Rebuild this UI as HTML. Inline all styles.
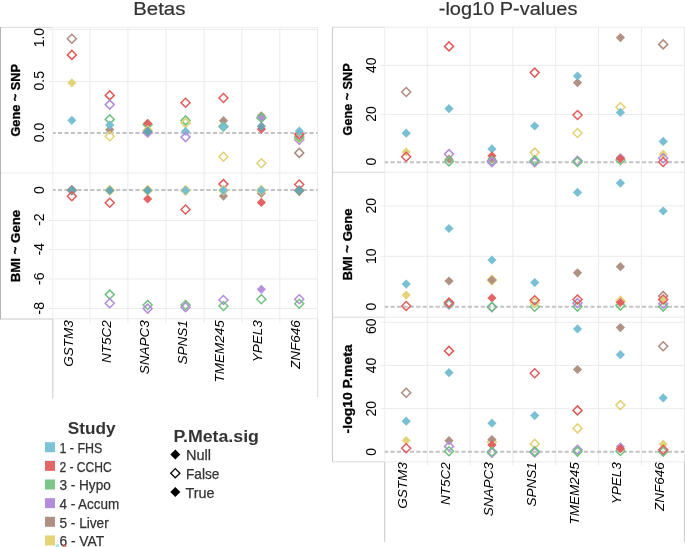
<!DOCTYPE html>
<html><head><meta charset="utf-8"><style>
html,body{margin:0;padding:0;background:#fff;}
body{width:685px;height:547px;overflow:hidden;}
svg{display:block;font-family:"Liberation Sans",sans-serif;filter:blur(0.35px);}
</style></head><body>
<svg width="685" height="547" viewBox="0 0 685 547">
<rect width="685" height="547" fill="#fff"/>
<line x1="48.8" y1="29.5" x2="317.5" y2="29.5" stroke="#ebebeb" stroke-width="1"/>
<line x1="48.8" y1="81.5" x2="317.5" y2="81.5" stroke="#ebebeb" stroke-width="1"/>
<line x1="48.8" y1="220.5" x2="317.5" y2="220.5" stroke="#ebebeb" stroke-width="1"/>
<line x1="48.8" y1="249.5" x2="317.5" y2="249.5" stroke="#ebebeb" stroke-width="1"/>
<line x1="48.8" y1="279.0" x2="317.5" y2="279.0" stroke="#ebebeb" stroke-width="1"/>
<line x1="48.8" y1="308.5" x2="317.5" y2="308.5" stroke="#ebebeb" stroke-width="1"/>
<line x1="52.8" y1="27.4" x2="317.5" y2="27.4" stroke="#f0f0f0" stroke-width="1"/>
<line x1="0" y1="173.0" x2="317.5" y2="173.0" stroke="#ebebeb" stroke-width="1"/>
<line x1="52.8" y1="318.7" x2="317.5" y2="318.7" stroke="#ebebeb" stroke-width="1"/>
<line x1="89.9" y1="27.5" x2="89.9" y2="323" stroke="#ebebeb" stroke-width="1"/>
<line x1="127.9" y1="27.5" x2="127.9" y2="323" stroke="#ebebeb" stroke-width="1"/>
<line x1="166.1" y1="27.5" x2="166.1" y2="323" stroke="#ebebeb" stroke-width="1"/>
<line x1="204.2" y1="27.5" x2="204.2" y2="323" stroke="#ebebeb" stroke-width="1"/>
<line x1="241.8" y1="27.5" x2="241.8" y2="323" stroke="#ebebeb" stroke-width="1"/>
<line x1="279.8" y1="27.5" x2="279.8" y2="323" stroke="#ebebeb" stroke-width="1"/>
<line x1="317.5" y1="27.5" x2="317.5" y2="319" stroke="#ebebeb" stroke-width="1"/>
<line x1="52.8" y1="27.5" x2="52.8" y2="319" stroke="#efefef" stroke-width="1"/>
<line x1="0" y1="27.4" x2="52.8" y2="27.4" stroke="#d9d9d9" stroke-width="1"/>
<line x1="0.5" y1="27" x2="0.5" y2="319.5" stroke="#b4b4b4" stroke-width="1"/>
<line x1="0" y1="319" x2="52.8" y2="319" stroke="#c9c9c9" stroke-width="1"/>
<line x1="52.8" y1="319" x2="52.8" y2="398.5" stroke="#c9c9c9" stroke-width="1"/>
<line x1="317.8" y1="319" x2="317.8" y2="397" stroke="#d6d6d6" stroke-width="1"/>
<line x1="53" y1="133" x2="317.5" y2="133" stroke="#c3c3c3" stroke-width="2" stroke-dasharray="4.2 2.25" stroke-dashoffset="1.45"/>
<line x1="53" y1="190.1" x2="317.5" y2="190.1" stroke="#c3c3c3" stroke-width="2" stroke-dasharray="4.2 2.25" stroke-dashoffset="1.45"/>
<line x1="380.7" y1="65.4" x2="684.0" y2="65.4" stroke="#ebebeb" stroke-width="1"/>
<line x1="380.7" y1="114.4" x2="684.0" y2="114.4" stroke="#ebebeb" stroke-width="1"/>
<line x1="380.7" y1="205.9" x2="684.0" y2="205.9" stroke="#ebebeb" stroke-width="1"/>
<line x1="380.7" y1="256.3" x2="684.0" y2="256.3" stroke="#ebebeb" stroke-width="1"/>
<line x1="380.7" y1="322.3" x2="684.0" y2="322.3" stroke="#ebebeb" stroke-width="1"/>
<line x1="380.7" y1="365.4" x2="684.0" y2="365.4" stroke="#ebebeb" stroke-width="1"/>
<line x1="380.7" y1="408.6" x2="684.0" y2="408.6" stroke="#ebebeb" stroke-width="1"/>
<line x1="427.22999999999996" y1="27" x2="427.22999999999996" y2="465.5" stroke="#ebebeb" stroke-width="1"/>
<line x1="470.05999999999995" y1="27" x2="470.05999999999995" y2="465.5" stroke="#ebebeb" stroke-width="1"/>
<line x1="512.89" y1="27" x2="512.89" y2="465.5" stroke="#ebebeb" stroke-width="1"/>
<line x1="555.72" y1="27" x2="555.72" y2="465.5" stroke="#ebebeb" stroke-width="1"/>
<line x1="598.55" y1="27" x2="598.55" y2="465.5" stroke="#ebebeb" stroke-width="1"/>
<line x1="641.38" y1="27" x2="641.38" y2="465.5" stroke="#ebebeb" stroke-width="1"/>
<line x1="384.7" y1="27" x2="384.7" y2="462" stroke="#efefef" stroke-width="1"/>
<line x1="684.4" y1="27" x2="684.4" y2="462" stroke="#e6e6e6" stroke-width="1"/>
<line x1="384.7" y1="27.2" x2="684.0" y2="27.2" stroke="#ececec" stroke-width="1"/>
<line x1="384.7" y1="172.3" x2="684.0" y2="172.3" stroke="#ebebeb" stroke-width="1"/>
<line x1="384.7" y1="317.2" x2="684.0" y2="317.2" stroke="#ebebeb" stroke-width="1"/>
<line x1="384.7" y1="461.8" x2="684.0" y2="461.8" stroke="#ebebeb" stroke-width="1"/>
<line x1="332.5" y1="27.2" x2="384.7" y2="27.2" stroke="#d9d9d9" stroke-width="1"/>
<line x1="332.5" y1="172.3" x2="384.7" y2="172.3" stroke="#d9d9d9" stroke-width="1"/>
<line x1="332.5" y1="317.2" x2="384.7" y2="317.2" stroke="#d9d9d9" stroke-width="1"/>
<line x1="332.5" y1="461.8" x2="384.7" y2="461.8" stroke="#d9d9d9" stroke-width="1"/>
<line x1="332.5" y1="27" x2="332.5" y2="462" stroke="#c9c9c9" stroke-width="1"/>
<line x1="384.7" y1="462" x2="384.7" y2="542" stroke="#c9c9c9" stroke-width="1"/>
<line x1="684.4" y1="462" x2="684.4" y2="542" stroke="#c9c9c9" stroke-width="1"/>
<line x1="384.7" y1="162.2" x2="684.0" y2="162.2" stroke="#c3c3c3" stroke-width="2" stroke-dasharray="4.2 2.25" stroke-dashoffset="0.7"/>
<line x1="384.7" y1="306.8" x2="684.0" y2="306.8" stroke="#c3c3c3" stroke-width="2" stroke-dasharray="4.2 2.25" stroke-dashoffset="0.7"/>
<line x1="384.7" y1="451.8" x2="684.0" y2="451.8" stroke="#c3c3c3" stroke-width="2" stroke-dasharray="4.2 2.25" stroke-dashoffset="0.7"/>
<path d="M71.85 34.20L76.35 38.70L71.85 43.20L67.35 38.70Z" fill="none" stroke="#ad8b7d" stroke-width="1.5"/>
<path d="M71.85 50.40L76.35 54.90L71.85 59.40L67.35 54.90Z" fill="none" stroke="#e05c5c" stroke-width="1.5"/>
<path d="M71.85 78.20L76.45 82.80L71.85 87.40L67.25 82.80Z" fill="#e2d274" fill-opacity="0.95"/>
<path d="M71.85 115.70L76.45 120.30L71.85 124.90L67.25 120.30Z" fill="#72bdd2" fill-opacity="0.95"/>
<path d="M109.75 90.90L114.25 95.40L109.75 99.90L105.25 95.40Z" fill="none" stroke="#e05c5c" stroke-width="1.5"/>
<path d="M109.75 100.10L114.25 104.60L109.75 109.10L105.25 104.60Z" fill="none" stroke="#b38cdb" stroke-width="1.5"/>
<path d="M109.75 114.90L114.25 119.40L109.75 123.90L105.25 119.40Z" fill="none" stroke="#72c180" stroke-width="1.5"/>
<path d="M109.75 125.10L114.35 129.70L109.75 134.30L105.15 129.70Z" fill="#ad8b7d" fill-opacity="0.95"/>
<path d="M109.75 120.50L114.35 125.10L109.75 129.70L105.15 125.10Z" fill="#72bdd2" fill-opacity="0.95"/>
<path d="M109.75 131.80L114.25 136.30L109.75 140.80L105.25 136.30Z" fill="none" stroke="#e2d274" stroke-width="1.5"/>
<path d="M147.65 120.10L152.15 124.60L147.65 129.10L143.15 124.60Z" fill="none" stroke="#72c180" stroke-width="1.5"/>
<path d="M147.65 118.80L152.25 123.40L147.65 128.00L143.05 123.40Z" fill="#e05c5c" fill-opacity="0.95"/>
<path d="M147.65 126.10L152.15 130.60L147.65 135.10L143.15 130.60Z" fill="none" stroke="#e2d274" stroke-width="1.5"/>
<path d="M147.65 127.90L152.15 132.40L147.65 136.90L143.15 132.40Z" fill="none" stroke="#b38cdb" stroke-width="1.5"/>
<path d="M147.65 126.80L152.25 131.40L147.65 136.00L143.05 131.40Z" fill="#ad8b7d" fill-opacity="0.95"/>
<path d="M147.65 126.80L152.25 131.40L147.65 136.00L143.05 131.40Z" fill="#5fa5b2" fill-opacity="0.95"/>
<path d="M185.55 98.20L190.05 102.70L185.55 107.20L181.05 102.70Z" fill="none" stroke="#e05c5c" stroke-width="1.5"/>
<path d="M185.55 115.90L190.05 120.40L185.55 124.90L181.05 120.40Z" fill="none" stroke="#72c180" stroke-width="1.5"/>
<path d="M185.55 118.40L190.05 122.90L185.55 127.40L181.05 122.90Z" fill="none" stroke="#e2d274" stroke-width="1.5"/>
<path d="M185.55 126.80L190.15 131.40L185.55 136.00L180.95 131.40Z" fill="#72bdd2" fill-opacity="0.95"/>
<path d="M185.55 132.60L190.05 137.10L185.55 141.60L181.05 137.10Z" fill="none" stroke="#b38cdb" stroke-width="1.5"/>
<path d="M223.45 93.50L227.95 98.00L223.45 102.50L218.95 98.00Z" fill="none" stroke="#e05c5c" stroke-width="1.5"/>
<path d="M223.45 116.10L228.05 120.70L223.45 125.30L218.85 120.70Z" fill="#ad8b7d" fill-opacity="0.95"/>
<path d="M223.45 122.00L227.95 126.50L223.45 131.00L218.95 126.50Z" fill="none" stroke="#72c180" stroke-width="1.5"/>
<path d="M223.45 122.20L228.05 126.80L223.45 131.40L218.85 126.80Z" fill="#72bdd2" fill-opacity="0.95"/>
<path d="M223.45 152.30L227.95 156.80L223.45 161.30L218.95 156.80Z" fill="none" stroke="#e2d274" stroke-width="1.5"/>
<path d="M261.35 111.20L265.95 115.80L261.35 120.40L256.75 115.80Z" fill="#ad8b7d" fill-opacity="0.95"/>
<path d="M261.35 113.70L265.95 118.30L261.35 122.90L256.75 118.30Z" fill="#b38cdb" fill-opacity="0.95"/>
<path d="M261.35 113.30L265.85 117.80L261.35 122.30L256.85 117.80Z" fill="none" stroke="#72c180" stroke-width="1.5"/>
<path d="M261.35 124.60L265.95 129.20L261.35 133.80L256.75 129.20Z" fill="#e05c5c" fill-opacity="0.95"/>
<path d="M261.35 121.70L265.95 126.30L261.35 130.90L256.75 126.30Z" fill="#6a9fb2" fill-opacity="0.95"/>
<path d="M261.35 158.70L265.85 163.20L261.35 167.70L256.85 163.20Z" fill="none" stroke="#e2d274" stroke-width="1.5"/>
<path d="M299.25 135.30L303.75 139.80L299.25 144.30L294.75 139.80Z" fill="none" stroke="#b38cdb" stroke-width="1.5"/>
<path d="M299.25 133.50L303.75 138.00L299.25 142.50L294.75 138.00Z" fill="none" stroke="#e2d274" stroke-width="1.5"/>
<path d="M299.25 132.40L303.75 136.90L299.25 141.40L294.75 136.90Z" fill="none" stroke="#72c180" stroke-width="1.5"/>
<path d="M299.25 129.90L303.75 134.40L299.25 138.90L294.75 134.40Z" fill="none" stroke="#e05c5c" stroke-width="1.5"/>
<path d="M299.25 126.40L303.85 131.00L299.25 135.60L294.65 131.00Z" fill="#72bdd2" fill-opacity="0.95"/>
<path d="M299.25 148.40L303.75 152.90L299.25 157.40L294.75 152.90Z" fill="none" stroke="#ad8b7d" stroke-width="1.5"/>
<path d="M71.85 185.70L76.35 190.20L71.85 194.70L67.35 190.20Z" fill="none" stroke="#ad8b7d" stroke-width="1.5"/>
<path d="M71.85 185.70L76.45 190.30L71.85 194.90L67.25 190.30Z" fill="#5fa5b2" fill-opacity="0.95"/>
<path d="M71.85 191.80L76.35 196.30L71.85 200.80L67.35 196.30Z" fill="none" stroke="#e05c5c" stroke-width="1.5"/>
<path d="M109.75 185.80L114.25 190.30L109.75 194.80L105.25 190.30Z" fill="none" stroke="#e2d274" stroke-width="1.5"/>
<path d="M109.75 185.80L114.35 190.40L109.75 195.00L105.15 190.40Z" fill="#5fa5b2" fill-opacity="0.95"/>
<path d="M109.75 198.20L114.25 202.70L109.75 207.20L105.25 202.70Z" fill="none" stroke="#e05c5c" stroke-width="1.5"/>
<path d="M109.75 290.10L114.25 294.60L109.75 299.10L105.25 294.60Z" fill="none" stroke="#72c180" stroke-width="1.5"/>
<path d="M109.75 298.80L114.25 303.30L109.75 307.80L105.25 303.30Z" fill="none" stroke="#b38cdb" stroke-width="1.5"/>
<path d="M147.65 185.80L152.15 190.30L147.65 194.80L143.15 190.30Z" fill="none" stroke="#e2d274" stroke-width="1.5"/>
<path d="M147.65 185.80L152.25 190.40L147.65 195.00L143.05 190.40Z" fill="#5fa5b2" fill-opacity="0.95"/>
<path d="M147.65 194.40L152.25 199.00L147.65 203.60L143.05 199.00Z" fill="#e05c5c" fill-opacity="0.95"/>
<path d="M147.65 300.50L152.15 305.00L147.65 309.50L143.15 305.00Z" fill="none" stroke="#72c180" stroke-width="1.5"/>
<path d="M147.65 304.10L152.15 308.60L147.65 313.10L143.15 308.60Z" fill="none" stroke="#b38cdb" stroke-width="1.5"/>
<path d="M185.55 185.90L190.05 190.40L185.55 194.90L181.05 190.40Z" fill="none" stroke="#e2d274" stroke-width="1.5"/>
<path d="M185.55 185.80L190.15 190.40L185.55 195.00L180.95 190.40Z" fill="#72bdd2" fill-opacity="0.95"/>
<path d="M185.55 205.00L190.05 209.50L185.55 214.00L181.05 209.50Z" fill="none" stroke="#e05c5c" stroke-width="1.5"/>
<path d="M185.55 300.60L190.05 305.10L185.55 309.60L181.05 305.10Z" fill="none" stroke="#72c180" stroke-width="1.5"/>
<path d="M185.55 302.80L190.05 307.30L185.55 311.80L181.05 307.30Z" fill="none" stroke="#b38cdb" stroke-width="1.5"/>
<path d="M223.45 179.60L227.95 184.10L223.45 188.60L218.95 184.10Z" fill="none" stroke="#e05c5c" stroke-width="1.5"/>
<path d="M223.45 191.50L228.05 196.10L223.45 200.70L218.85 196.10Z" fill="#ad8b7d" fill-opacity="0.95"/>
<path d="M223.45 185.80L227.95 190.30L223.45 194.80L218.95 190.30Z" fill="none" stroke="#e2d274" stroke-width="1.5"/>
<path d="M223.45 185.70L228.05 190.30L223.45 194.90L218.85 190.30Z" fill="#72bdd2" fill-opacity="0.95"/>
<path d="M223.45 295.50L227.95 300.00L223.45 304.50L218.95 300.00Z" fill="none" stroke="#b38cdb" stroke-width="1.5"/>
<path d="M223.45 301.50L227.95 306.00L223.45 310.50L218.95 306.00Z" fill="none" stroke="#72c180" stroke-width="1.5"/>
<path d="M261.35 188.70L265.95 193.30L261.35 197.90L256.75 193.30Z" fill="#ad8b7d" fill-opacity="0.95"/>
<path d="M261.35 185.80L265.85 190.30L261.35 194.80L256.85 190.30Z" fill="none" stroke="#e2d274" stroke-width="1.5"/>
<path d="M261.35 185.70L265.95 190.30L261.35 194.90L256.75 190.30Z" fill="#72bdd2" fill-opacity="0.95"/>
<path d="M261.35 197.80L265.95 202.40L261.35 207.00L256.75 202.40Z" fill="#e05c5c" fill-opacity="0.95"/>
<path d="M261.35 284.70L265.95 289.30L261.35 293.90L256.75 289.30Z" fill="#b38cdb" fill-opacity="0.95"/>
<path d="M261.35 294.80L265.85 299.30L261.35 303.80L256.85 299.30Z" fill="none" stroke="#72c180" stroke-width="1.5"/>
<path d="M299.25 180.00L303.75 184.50L299.25 189.00L294.75 184.50Z" fill="none" stroke="#e05c5c" stroke-width="1.5"/>
<path d="M299.25 186.10L303.75 190.60L299.25 195.10L294.75 190.60Z" fill="none" stroke="#ad8b7d" stroke-width="1.5"/>
<path d="M299.25 185.90L303.85 190.50L299.25 195.10L294.65 190.50Z" fill="#5fa5b2" fill-opacity="0.95"/>
<path d="M299.25 294.80L303.75 299.30L299.25 303.80L294.75 299.30Z" fill="none" stroke="#b38cdb" stroke-width="1.5"/>
<path d="M299.25 299.20L303.75 303.70L299.25 308.20L294.75 303.70Z" fill="none" stroke="#72c180" stroke-width="1.5"/>
<path d="M406.20 87.50L410.70 92.00L406.20 96.50L401.70 92.00Z" fill="none" stroke="#ad8b7d" stroke-width="1.5"/>
<path d="M406.20 128.60L410.80 133.20L406.20 137.80L401.60 133.20Z" fill="#72bdd2" fill-opacity="0.95"/>
<path d="M406.20 147.40L410.80 152.00L406.20 156.60L401.60 152.00Z" fill="#e2d274" fill-opacity="0.95"/>
<path d="M406.20 152.20L410.70 156.70L406.20 161.20L401.70 156.70Z" fill="none" stroke="#e05c5c" stroke-width="1.5"/>
<path d="M449.00 41.90L453.50 46.40L449.00 50.90L444.50 46.40Z" fill="none" stroke="#e05c5c" stroke-width="1.5"/>
<path d="M449.00 104.10L453.60 108.70L449.00 113.30L444.40 108.70Z" fill="#72bdd2" fill-opacity="0.95"/>
<path d="M449.00 149.60L453.50 154.10L449.00 158.60L444.50 154.10Z" fill="none" stroke="#b38cdb" stroke-width="1.5"/>
<path d="M449.00 154.60L453.60 159.20L449.00 163.80L444.40 159.20Z" fill="#ad8b7d" fill-opacity="0.95"/>
<path d="M449.00 156.90L453.50 161.40L449.00 165.90L444.50 161.40Z" fill="none" stroke="#72c180" stroke-width="1.5"/>
<path d="M491.90 144.30L496.50 148.90L491.90 153.50L487.30 148.90Z" fill="#72bdd2" fill-opacity="0.95"/>
<path d="M491.90 154.30L496.50 158.90L491.90 163.50L487.30 158.90Z" fill="#ad8b7d" fill-opacity="0.95"/>
<path d="M491.90 151.20L496.50 155.80L491.90 160.40L487.30 155.80Z" fill="#e05c5c" fill-opacity="0.95"/>
<path d="M491.90 156.30L496.40 160.80L491.90 165.30L487.40 160.80Z" fill="none" stroke="#72c180" stroke-width="1.5"/>
<path d="M491.90 157.60L496.40 162.10L491.90 166.60L487.40 162.10Z" fill="none" stroke="#b38cdb" stroke-width="1.5"/>
<path d="M534.70 68.10L539.20 72.60L534.70 77.10L530.20 72.60Z" fill="none" stroke="#e05c5c" stroke-width="1.5"/>
<path d="M534.70 121.40L539.30 126.00L534.70 130.60L530.10 126.00Z" fill="#72bdd2" fill-opacity="0.95"/>
<path d="M534.70 148.10L539.20 152.60L534.70 157.10L530.20 152.60Z" fill="none" stroke="#e2d274" stroke-width="1.5"/>
<path d="M534.70 157.60L539.20 162.10L534.70 166.60L530.20 162.10Z" fill="none" stroke="#b38cdb" stroke-width="1.5"/>
<path d="M534.70 155.90L539.20 160.40L534.70 164.90L530.20 160.40Z" fill="none" stroke="#72c180" stroke-width="1.5"/>
<path d="M577.50 78.10L582.10 82.70L577.50 87.30L572.90 82.70Z" fill="#ad8b7d" fill-opacity="0.95"/>
<path d="M577.50 71.40L582.10 76.00L577.50 80.60L572.90 76.00Z" fill="#72bdd2" fill-opacity="0.95"/>
<path d="M577.50 110.50L582.00 115.00L577.50 119.50L573.00 115.00Z" fill="none" stroke="#e05c5c" stroke-width="1.5"/>
<path d="M577.50 128.50L582.00 133.00L577.50 137.50L573.00 133.00Z" fill="none" stroke="#e2d274" stroke-width="1.5"/>
<path d="M577.50 156.20L582.00 160.70L577.50 165.20L573.00 160.70Z" fill="none" stroke="#b38cdb" stroke-width="1.5"/>
<path d="M577.50 157.50L582.00 162.00L577.50 166.50L573.00 162.00Z" fill="none" stroke="#72c180" stroke-width="1.5"/>
<path d="M620.40 33.00L625.00 37.60L620.40 42.20L615.80 37.60Z" fill="#ad8b7d" fill-opacity="0.95"/>
<path d="M620.40 102.80L624.90 107.30L620.40 111.80L615.90 107.30Z" fill="none" stroke="#e2d274" stroke-width="1.5"/>
<path d="M620.40 107.80L625.00 112.40L620.40 117.00L615.80 112.40Z" fill="#72bdd2" fill-opacity="0.95"/>
<path d="M620.40 153.00L625.00 157.60L620.40 162.20L615.80 157.60Z" fill="#b38cdb" fill-opacity="0.95"/>
<path d="M620.40 155.50L624.90 160.00L620.40 164.50L615.90 160.00Z" fill="none" stroke="#72c180" stroke-width="1.5"/>
<path d="M620.40 154.00L625.00 158.60L620.40 163.20L615.80 158.60Z" fill="#e05c5c" fill-opacity="0.95"/>
<path d="M663.20 39.90L667.70 44.40L663.20 48.90L658.70 44.40Z" fill="none" stroke="#ad8b7d" stroke-width="1.5"/>
<path d="M663.20 136.80L667.80 141.40L663.20 146.00L658.60 141.40Z" fill="#72bdd2" fill-opacity="0.95"/>
<path d="M663.20 149.60L667.80 154.20L663.20 158.80L658.60 154.20Z" fill="#e2d274" fill-opacity="0.95"/>
<path d="M663.20 153.70L667.70 158.20L663.20 162.70L658.70 158.20Z" fill="none" stroke="#b38cdb" stroke-width="1.5"/>
<path d="M663.20 157.50L667.70 162.00L663.20 166.50L658.70 162.00Z" fill="none" stroke="#e05c5c" stroke-width="1.5"/>
<path d="M406.20 279.50L410.80 284.10L406.20 288.70L401.60 284.10Z" fill="#72bdd2" fill-opacity="0.95"/>
<path d="M406.20 290.50L410.80 295.10L406.20 299.70L401.60 295.10Z" fill="#e2d274" fill-opacity="0.95"/>
<path d="M406.20 301.50L410.70 306.00L406.20 310.50L401.70 306.00Z" fill="none" stroke="#e05c5c" stroke-width="1.5"/>
<path d="M449.00 223.90L453.60 228.50L449.00 233.10L444.40 228.50Z" fill="#72bdd2" fill-opacity="0.95"/>
<path d="M449.00 276.40L453.60 281.00L449.00 285.60L444.40 281.00Z" fill="#ad8b7d" fill-opacity="0.95"/>
<path d="M449.00 300.00L453.50 304.50L449.00 309.00L444.50 304.50Z" fill="none" stroke="#b38cdb" stroke-width="1.5"/>
<path d="M449.00 299.10L453.50 303.60L449.00 308.10L444.50 303.60Z" fill="none" stroke="#72c180" stroke-width="1.5"/>
<path d="M449.00 298.10L453.50 302.60L449.00 307.10L444.50 302.60Z" fill="none" stroke="#e05c5c" stroke-width="1.5"/>
<path d="M491.90 255.40L496.50 260.00L491.90 264.60L487.30 260.00Z" fill="#72bdd2" fill-opacity="0.95"/>
<path d="M491.90 275.60L496.40 280.10L491.90 284.60L487.40 280.10Z" fill="none" stroke="#e2d274" stroke-width="1.5"/>
<path d="M491.90 275.50L496.50 280.10L491.90 284.70L487.30 280.10Z" fill="#ad8b7d" fill-opacity="0.95"/>
<path d="M491.90 293.40L496.50 298.00L491.90 302.60L487.30 298.00Z" fill="#e05c5c" fill-opacity="0.95"/>
<path d="M491.90 302.70L496.40 307.20L491.90 311.70L487.40 307.20Z" fill="none" stroke="#b38cdb" stroke-width="1.5"/>
<path d="M491.90 302.20L496.40 306.70L491.90 311.20L487.40 306.70Z" fill="none" stroke="#72c180" stroke-width="1.5"/>
<path d="M534.70 278.00L539.30 282.60L534.70 287.20L530.10 282.60Z" fill="#72bdd2" fill-opacity="0.95"/>
<path d="M534.70 302.20L539.20 306.70L534.70 311.20L530.20 306.70Z" fill="none" stroke="#72c180" stroke-width="1.5"/>
<path d="M534.70 298.20L539.20 302.70L534.70 307.20L530.20 302.70Z" fill="none" stroke="#e2d274" stroke-width="1.5"/>
<path d="M534.70 295.70L539.20 300.20L534.70 304.70L530.20 300.20Z" fill="none" stroke="#e05c5c" stroke-width="1.5"/>
<path d="M577.50 187.80L582.10 192.40L577.50 197.00L572.90 192.40Z" fill="#72bdd2" fill-opacity="0.95"/>
<path d="M577.50 268.20L582.10 272.80L577.50 277.40L572.90 272.80Z" fill="#ad8b7d" fill-opacity="0.95"/>
<path d="M577.50 302.10L582.00 306.60L577.50 311.10L573.00 306.60Z" fill="none" stroke="#72c180" stroke-width="1.5"/>
<path d="M577.50 298.60L582.00 303.10L577.50 307.60L573.00 303.10Z" fill="none" stroke="#b38cdb" stroke-width="1.5"/>
<path d="M577.50 295.00L582.00 299.50L577.50 304.00L573.00 299.50Z" fill="none" stroke="#e05c5c" stroke-width="1.5"/>
<path d="M620.40 178.50L625.00 183.10L620.40 187.70L615.80 183.10Z" fill="#72bdd2" fill-opacity="0.95"/>
<path d="M620.40 262.10L625.00 266.70L620.40 271.30L615.80 266.70Z" fill="#ad8b7d" fill-opacity="0.95"/>
<path d="M620.40 301.10L624.90 305.60L620.40 310.10L615.90 305.60Z" fill="none" stroke="#72c180" stroke-width="1.5"/>
<path d="M620.40 296.40L624.90 300.90L620.40 305.40L615.90 300.90Z" fill="none" stroke="#e2d274" stroke-width="1.5"/>
<path d="M620.40 297.80L625.00 302.40L620.40 307.00L615.80 302.40Z" fill="#e05c5c" fill-opacity="0.95"/>
<path d="M663.20 206.40L667.80 211.00L663.20 215.60L658.60 211.00Z" fill="#72bdd2" fill-opacity="0.95"/>
<path d="M663.20 302.10L667.70 306.60L663.20 311.10L658.70 306.60Z" fill="none" stroke="#72c180" stroke-width="1.5"/>
<path d="M663.20 299.20L667.70 303.70L663.20 308.20L658.70 303.70Z" fill="none" stroke="#b38cdb" stroke-width="1.5"/>
<path d="M663.20 291.60L667.70 296.10L663.20 300.60L658.70 296.10Z" fill="none" stroke="#ad8b7d" stroke-width="1.5"/>
<path d="M663.20 295.40L667.80 300.00L663.20 304.60L658.60 300.00Z" fill="#e2d274" fill-opacity="0.95"/>
<path d="M663.20 295.00L667.70 299.50L663.20 304.00L658.70 299.50Z" fill="none" stroke="#e05c5c" stroke-width="1.5"/>
<path d="M406.20 388.20L410.70 392.70L406.20 397.20L401.70 392.70Z" fill="none" stroke="#ad8b7d" stroke-width="1.5"/>
<path d="M406.20 416.60L410.80 421.20L406.20 425.80L401.60 421.20Z" fill="#72bdd2" fill-opacity="0.95"/>
<path d="M406.20 435.90L410.80 440.50L406.20 445.10L401.60 440.50Z" fill="#e2d274" fill-opacity="0.95"/>
<path d="M406.20 443.80L410.70 448.30L406.20 452.80L401.70 448.30Z" fill="none" stroke="#e05c5c" stroke-width="1.5"/>
<path d="M449.00 346.40L453.50 350.90L449.00 355.40L444.50 350.90Z" fill="none" stroke="#e05c5c" stroke-width="1.5"/>
<path d="M449.00 368.10L453.60 372.70L449.00 377.30L444.40 372.70Z" fill="#72bdd2" fill-opacity="0.95"/>
<path d="M449.00 436.10L453.60 440.70L449.00 445.30L444.40 440.70Z" fill="#ad8b7d" fill-opacity="0.95"/>
<path d="M449.00 441.90L453.50 446.40L449.00 450.90L444.50 446.40Z" fill="none" stroke="#b38cdb" stroke-width="1.5"/>
<path d="M449.00 446.70L453.50 451.20L449.00 455.70L444.50 451.20Z" fill="none" stroke="#72c180" stroke-width="1.5"/>
<path d="M491.90 418.60L496.50 423.20L491.90 427.80L487.30 423.20Z" fill="#72bdd2" fill-opacity="0.95"/>
<path d="M491.90 437.50L496.40 442.00L491.90 446.50L487.40 442.00Z" fill="none" stroke="#e2d274" stroke-width="1.5"/>
<path d="M491.90 434.90L496.50 439.50L491.90 444.10L487.30 439.50Z" fill="#ad8b7d" fill-opacity="0.95"/>
<path d="M491.90 440.30L496.50 444.90L491.90 449.50L487.30 444.90Z" fill="#e05c5c" fill-opacity="0.95"/>
<path d="M491.90 448.20L496.40 452.70L491.90 457.20L487.40 452.70Z" fill="none" stroke="#b38cdb" stroke-width="1.5"/>
<path d="M491.90 447.20L496.40 451.70L491.90 456.20L487.40 451.70Z" fill="none" stroke="#72c180" stroke-width="1.5"/>
<path d="M534.70 368.70L539.20 373.20L534.70 377.70L530.20 373.20Z" fill="none" stroke="#e05c5c" stroke-width="1.5"/>
<path d="M534.70 411.00L539.30 415.60L534.70 420.20L530.10 415.60Z" fill="#72bdd2" fill-opacity="0.95"/>
<path d="M534.70 439.40L539.20 443.90L534.70 448.40L530.20 443.90Z" fill="none" stroke="#e2d274" stroke-width="1.5"/>
<path d="M534.70 447.90L539.20 452.40L534.70 456.90L530.20 452.40Z" fill="none" stroke="#b38cdb" stroke-width="1.5"/>
<path d="M534.70 446.90L539.20 451.40L534.70 455.90L530.20 451.40Z" fill="none" stroke="#72c180" stroke-width="1.5"/>
<path d="M577.50 324.30L582.10 328.90L577.50 333.50L572.90 328.90Z" fill="#72bdd2" fill-opacity="0.95"/>
<path d="M577.50 364.90L582.10 369.50L577.50 374.10L572.90 369.50Z" fill="#ad8b7d" fill-opacity="0.95"/>
<path d="M577.50 405.90L582.00 410.40L577.50 414.90L573.00 410.40Z" fill="none" stroke="#e05c5c" stroke-width="1.5"/>
<path d="M577.50 423.90L582.00 428.40L577.50 432.90L573.00 428.40Z" fill="none" stroke="#e2d274" stroke-width="1.5"/>
<path d="M577.50 445.20L582.00 449.70L577.50 454.20L573.00 449.70Z" fill="none" stroke="#b38cdb" stroke-width="1.5"/>
<path d="M577.50 447.10L582.00 451.60L577.50 456.10L573.00 451.60Z" fill="none" stroke="#72c180" stroke-width="1.5"/>
<path d="M620.40 323.00L625.00 327.60L620.40 332.20L615.80 327.60Z" fill="#ad8b7d" fill-opacity="0.95"/>
<path d="M620.40 350.10L625.00 354.70L620.40 359.30L615.80 354.70Z" fill="#72bdd2" fill-opacity="0.95"/>
<path d="M620.40 400.60L624.90 405.10L620.40 409.60L615.90 405.10Z" fill="none" stroke="#e2d274" stroke-width="1.5"/>
<path d="M620.40 442.20L625.00 446.80L620.40 451.40L615.80 446.80Z" fill="#b38cdb" fill-opacity="0.95"/>
<path d="M620.40 446.50L624.90 451.00L620.40 455.50L615.90 451.00Z" fill="none" stroke="#72c180" stroke-width="1.5"/>
<path d="M620.40 444.10L625.00 448.70L620.40 453.30L615.80 448.70Z" fill="#e05c5c" fill-opacity="0.95"/>
<path d="M663.20 341.70L667.70 346.20L663.20 350.70L658.70 346.20Z" fill="none" stroke="#ad8b7d" stroke-width="1.5"/>
<path d="M663.20 393.30L667.80 397.90L663.20 402.50L658.60 397.90Z" fill="#72bdd2" fill-opacity="0.95"/>
<path d="M663.20 439.60L667.80 444.20L663.20 448.80L658.60 444.20Z" fill="#e2d274" fill-opacity="0.95"/>
<path d="M663.20 447.10L667.70 451.60L663.20 456.10L658.70 451.60Z" fill="none" stroke="#72c180" stroke-width="1.5"/>
<path d="M663.20 445.20L667.70 449.70L663.20 454.20L658.70 449.70Z" fill="none" stroke="#e05c5c" stroke-width="1.5"/>
<text x="133.2" y="15.3" font-size="18.8" font-weight="normal" fill="#333333" textLength="52.2" lengthAdjust="spacingAndGlyphs" stroke="#333" stroke-width="0.2">Betas</text>
<text x="438.8" y="15.0" font-size="18.9" font-weight="normal" fill="#333333" textLength="138.6" lengthAdjust="spacingAndGlyphs" stroke="#333" stroke-width="0.2">-log10 P-values</text>
<text transform="translate(19.6 136.6) rotate(-90)" font-size="13.5" font-weight="bold" fill="#000" stroke="#000" stroke-width="0.3" textLength="72.6" lengthAdjust="spacingAndGlyphs">Gene ~ SNP</text>
<text transform="translate(19.6 282.2) rotate(-90)" font-size="13.5" font-weight="bold" fill="#000" stroke="#000" stroke-width="0.3" textLength="72.4" lengthAdjust="spacingAndGlyphs">BMI ~ Gene</text>
<text transform="translate(352.0 135.4) rotate(-90)" font-size="13.5" font-weight="bold" fill="#000" stroke="#000" stroke-width="0.3" textLength="72.0" lengthAdjust="spacingAndGlyphs">Gene ~ SNP</text>
<text transform="translate(352.0 280.4) rotate(-90)" font-size="13.5" font-weight="bold" fill="#000" stroke="#000" stroke-width="0.3" textLength="72.0" lengthAdjust="spacingAndGlyphs">BMI ~ Gene</text>
<text transform="translate(352.0 433.4) rotate(-90)" font-size="13.5" font-weight="bold" fill="#000" stroke="#000" stroke-width="0.3" textLength="89.0" lengthAdjust="spacingAndGlyphs">-log10 P.meta</text>
<text transform="translate(44 37.6) rotate(-90)" font-size="14" font-weight="normal" font-style="normal" text-anchor="middle" fill="#000">1.0</text>
<text transform="translate(44 80.7) rotate(-90)" font-size="14" font-weight="normal" font-style="normal" text-anchor="middle" fill="#000">0.5</text>
<text transform="translate(44 132.4) rotate(-90)" font-size="14" font-weight="normal" font-style="normal" text-anchor="middle" fill="#000">0.0</text>
<text transform="translate(44 190) rotate(-90)" font-size="14" font-weight="normal" font-style="normal" text-anchor="middle" fill="#000">0</text>
<text transform="translate(44 219.6) rotate(-90)" font-size="14" font-weight="normal" font-style="normal" text-anchor="middle" fill="#000">-2</text>
<text transform="translate(44 249.1) rotate(-90)" font-size="14" font-weight="normal" font-style="normal" text-anchor="middle" fill="#000">-4</text>
<text transform="translate(44 278.8) rotate(-90)" font-size="14" font-weight="normal" font-style="normal" text-anchor="middle" fill="#000">-6</text>
<text transform="translate(44 308.2) rotate(-90)" font-size="14" font-weight="normal" font-style="normal" text-anchor="middle" fill="#000">-8</text>
<text transform="translate(376.3 65.2) rotate(-90)" font-size="14" font-weight="normal" font-style="normal" text-anchor="middle" fill="#000">40</text>
<text transform="translate(376.3 113.9) rotate(-90)" font-size="14" font-weight="normal" font-style="normal" text-anchor="middle" fill="#000">20</text>
<text transform="translate(376.3 161.6) rotate(-90)" font-size="14" font-weight="normal" font-style="normal" text-anchor="middle" fill="#000">0</text>
<text transform="translate(376.3 205.8) rotate(-90)" font-size="14" font-weight="normal" font-style="normal" text-anchor="middle" fill="#000">20</text>
<text transform="translate(376.3 256.2) rotate(-90)" font-size="14" font-weight="normal" font-style="normal" text-anchor="middle" fill="#000">10</text>
<text transform="translate(376.3 306.6) rotate(-90)" font-size="14" font-weight="normal" font-style="normal" text-anchor="middle" fill="#000">0</text>
<text transform="translate(376.3 326.2) rotate(-90)" font-size="14" font-weight="normal" font-style="normal" text-anchor="middle" fill="#000">60</text>
<text transform="translate(376.3 365.5) rotate(-90)" font-size="14" font-weight="normal" font-style="normal" text-anchor="middle" fill="#000">40</text>
<text transform="translate(376.3 408.7) rotate(-90)" font-size="14" font-weight="normal" font-style="normal" text-anchor="middle" fill="#000">20</text>
<text transform="translate(376.3 451.9) rotate(-90)" font-size="14" font-weight="normal" font-style="normal" text-anchor="middle" fill="#000">0</text>
<text transform="translate(72.85 320.3) rotate(-90)" font-size="13.5" font-weight="normal" font-style="italic" text-anchor="end" fill="#000">GSTM3</text>
<text transform="translate(110.75 320.3) rotate(-90)" font-size="13.5" font-weight="normal" font-style="italic" text-anchor="end" fill="#000">NT5C2</text>
<text transform="translate(148.65 320.3) rotate(-90)" font-size="13.5" font-weight="normal" font-style="italic" text-anchor="end" fill="#000">SNAPC3</text>
<text transform="translate(186.55 320.3) rotate(-90)" font-size="13.5" font-weight="normal" font-style="italic" text-anchor="end" fill="#000">SPNS1</text>
<text transform="translate(224.45 320.3) rotate(-90)" font-size="13.5" font-weight="normal" font-style="italic" text-anchor="end" fill="#000">TMEM245</text>
<text transform="translate(262.35 320.3) rotate(-90)" font-size="13.5" font-weight="normal" font-style="italic" text-anchor="end" fill="#000">YPEL3</text>
<text transform="translate(300.25 320.3) rotate(-90)" font-size="13.5" font-weight="normal" font-style="italic" text-anchor="end" fill="#000">ZNF646</text>
<text transform="translate(407.2 462.3) rotate(-90)" font-size="13.5" font-weight="normal" font-style="italic" text-anchor="end" fill="#000">GSTM3</text>
<text transform="translate(450.0 462.3) rotate(-90)" font-size="13.5" font-weight="normal" font-style="italic" text-anchor="end" fill="#000">NT5C2</text>
<text transform="translate(492.9 462.3) rotate(-90)" font-size="13.5" font-weight="normal" font-style="italic" text-anchor="end" fill="#000">SNAPC3</text>
<text transform="translate(535.7 462.3) rotate(-90)" font-size="13.5" font-weight="normal" font-style="italic" text-anchor="end" fill="#000">SPNS1</text>
<text transform="translate(578.5 462.3) rotate(-90)" font-size="13.5" font-weight="normal" font-style="italic" text-anchor="end" fill="#000">TMEM245</text>
<text transform="translate(621.4 462.3) rotate(-90)" font-size="13.5" font-weight="normal" font-style="italic" text-anchor="end" fill="#000">YPEL3</text>
<text transform="translate(664.2 462.3) rotate(-90)" font-size="13.5" font-weight="normal" font-style="italic" text-anchor="end" fill="#000">ZNF646</text>
<text x="67.8" y="433.9" font-size="16.5" font-weight="bold" fill="#333333" textLength="47.8" lengthAdjust="spacingAndGlyphs">Study</text>
<rect x="45" y="442.20" width="10" height="10" fill="#7bc3d5"/>
<text x="59.4" y="453.00" font-size="14.3" font-weight="normal" fill="#333333" textLength="43.0" lengthAdjust="spacingAndGlyphs" stroke="#333" stroke-width="0.25">1 - FHS</text>
<rect x="45" y="460.85" width="10" height="10" fill="#e36767"/>
<text x="59.4" y="471.65" font-size="14.3" font-weight="normal" fill="#333333" textLength="52.4" lengthAdjust="spacingAndGlyphs" stroke="#333" stroke-width="0.25">2 - CCHC</text>
<rect x="45" y="479.50" width="10" height="10" fill="#7cc689"/>
<text x="59.4" y="490.30" font-size="14.3" font-weight="normal" fill="#333333" textLength="51.4" lengthAdjust="spacingAndGlyphs" stroke="#333" stroke-width="0.25">3 - Hypo</text>
<rect x="45" y="498.15" width="10" height="10" fill="#b38cdb"/>
<text x="59.4" y="508.95" font-size="14.3" font-weight="normal" fill="#333333" textLength="59.9" lengthAdjust="spacingAndGlyphs" stroke="#333" stroke-width="0.25">4 - Accum</text>
<rect x="45" y="516.80" width="10" height="10" fill="#b09083"/>
<text x="59.4" y="527.60" font-size="14.3" font-weight="normal" fill="#333333" textLength="49.4" lengthAdjust="spacingAndGlyphs" stroke="#333" stroke-width="0.25">5 - Liver</text>
<rect x="45" y="535.45" width="10" height="10" fill="#e3d478"/>
<text x="59.4" y="546.25" font-size="14.3" font-weight="normal" fill="#333333" textLength="44.8" lengthAdjust="spacingAndGlyphs" stroke="#333" stroke-width="0.25">6 - VAT</text>
<text x="173.4" y="441.9" font-size="16.8" font-weight="bold" fill="#333333" textLength="85.6" lengthAdjust="spacingAndGlyphs">P.Meta.sig</text>
<path d="M175.3 449.4L180.3 454.4L175.3 459.4L170.3 454.4Z" fill="#000"/>
<text x="186.0" y="460.3" font-size="14.3" font-weight="normal" fill="#333333" textLength="25.0" lengthAdjust="spacingAndGlyphs" stroke="#333" stroke-width="0.25">Null</text>
<path d="M175.3 468.59999999999997L179.9 473.2L175.3 477.8L170.70000000000002 473.2Z" fill="none" stroke="#000" stroke-width="1.3"/>
<text x="186.0" y="479.1" font-size="14.3" font-weight="normal" fill="#333333" textLength="33.4" lengthAdjust="spacingAndGlyphs" stroke="#333" stroke-width="0.25">False</text>
<path d="M175.3 487.0L180.3 492.0L175.3 497.0L170.3 492.0Z" fill="#000"/>
<text x="185.6" y="497.9" font-size="14.3" font-weight="normal" fill="#333333" textLength="29.0" lengthAdjust="spacingAndGlyphs" stroke="#333" stroke-width="0.25">True</text>
<rect x="55.5" y="544.3" width="3.6" height="2.7" fill="#5fd8e0" fill-opacity="0.55"/>
<rect x="61.8" y="544.8" width="4.8" height="2.2" fill="#ee5a5a" fill-opacity="0.6"/>
</svg>
</body></html>
